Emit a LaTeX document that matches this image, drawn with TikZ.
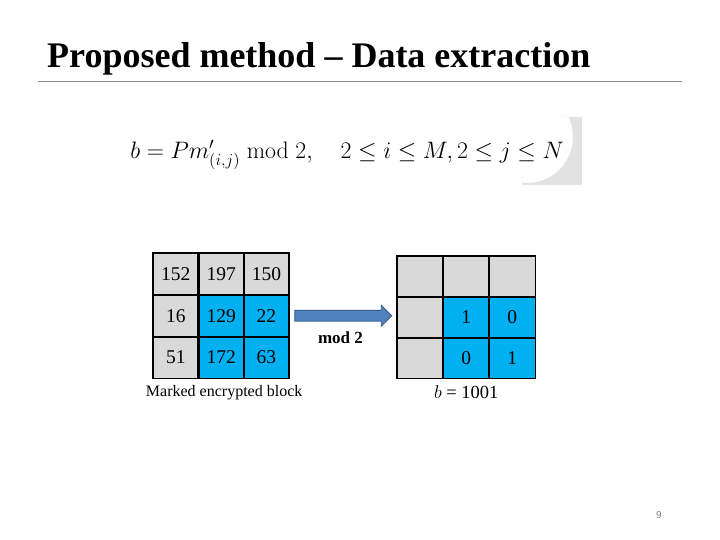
\RequirePackage{fix-cm}
\documentclass[tikz,border=0pt]{standalone}
\usepackage{amsmath}
\usepackage{amssymb}
\usepackage[no-math]{fontspec}
\setmainfont{Liberation Serif}
\setsansfont{Liberation Sans}
\usepackage{xcolor}
\definecolor{cellgray}{RGB}{217,217,217}
\definecolor{cellblue}{RGB}{0,176,240}
\definecolor{arrowblue}{RGB}{79,129,189}
\definecolor{arrowedge}{RGB}{56,93,138}
\definecolor{rulegray}{RGB}{140,140,140}
\definecolor{markgray}{RGB}{226,226,226}
\usepackage{tikz}
\usetikzlibrary{arrows.meta, positioning, shapes.arrows}

\tikzset{
  gridcell/.style={minimum width=45.3pt,minimum height=41.7pt,inner sep=0pt,anchor=north west},
  rcell/.style={gridcell,minimum width=46pt,minimum height=40.7pt},
  celltext/.style={font=\fontsize{19.5}{22}\selectfont},
  cellline/.style={line width=1.8pt}
}

\begin{document}
\begin{tikzpicture}[x=1pt,y=-1pt]
  \useasboundingbox (0,0) rectangle (720,540);

  % title
  \node[anchor=base west,inner sep=0pt,font=\fontsize{36}{40}\bfseries] (title) at (47,68) {Proposed method -- Data extraction};
  \draw[rulegray,line width=0.8pt] (38,81) -- (682,81);

  % watermark behind the formula
  \begin{scope}
    \clip (560,117) -- (582,117) -- (582,185) -- (522,185) -- (522,168) -- (560,168) -- cycle;
    \fill[markgray,even odd rule] (522,117) rectangle (582,185) (527,137) circle (46);
  \end{scope}

  \node[inner sep=0pt,font=\fontsize{23.8}{28}\selectfont] (formula) at (347,155)
    {$b = Pm'_{(i,j)} \bmod 2, \quad 2 \le i \le M, 2 \le j \le N$};

  % marked encrypted block
  \foreach \v [count=\k from 0] in {152,197,150,16,129,22,51,172,63} {
    \pgfmathtruncatemacro\row{div(\k,3)}
    \pgfmathtruncatemacro\col{mod(\k,3)}
    \ifnum\numexpr\row*\col\relax>0 \def\cellcol{cellblue}\else\def\cellcol{cellgray}\fi
    \node[gridcell,fill=\cellcol,celltext] (lcell-\row-\col) at (153+45.3*\col,253+41.7*\row) {\v};
  }
  \foreach \row in {0,1,2}
    \foreach \col in {0,1,2}
      \draw[cellline] (lcell-\row-\col.north west) rectangle (lcell-\row-\col.south east);
  \node[below=7pt of lcell-2-1,xshift=3pt,inner sep=0pt,font=\fontsize{16}{18}\selectfont] (lcap) {Marked encrypted block};

  % extracted bits
  \foreach \v [count=\k from 0] in {{},{},{},{},1,0,{},0,1} {
    \pgfmathtruncatemacro\row{div(\k,3)}
    \pgfmathtruncatemacro\col{mod(\k,3)}
    \ifnum\numexpr\row*\col\relax>0 \def\cellcol{cellblue}\else\def\cellcol{cellgray}\fi
    \node[rcell,fill=\cellcol,celltext] (rcell-\row-\col) at (397+46*\col,256+40.7*\row) {\v};
  }
  \foreach \row in {0,1,2}
    \foreach \col in {0,1,2}
      \draw[cellline] (rcell-\row-\col.north west) rectangle (rcell-\row-\col.south east);
  \node[below=7pt of rcell-2-1,inner sep=0pt,font=\fontsize{18.5}{20}\selectfont] (rcap) {$b$ = 1001};

  \node[single arrow,draw=arrowedge,fill=arrowblue,line width=0.8pt,inner xsep=0pt,inner ysep=5pt,
        single arrow head extend=5pt,minimum height=97pt,right=5pt of lcell-1-2] (modarrow) {};
  \node[below=10pt of modarrow,inner sep=0pt,font=\fontsize{17}{19}\bfseries] (modlabel) {mod 2};

  \node[text=gray,font=\sffamily\fontsize{10}{12}\selectfont] (pagenum) at (659,515) {9};
\end{tikzpicture}
\end{document}
